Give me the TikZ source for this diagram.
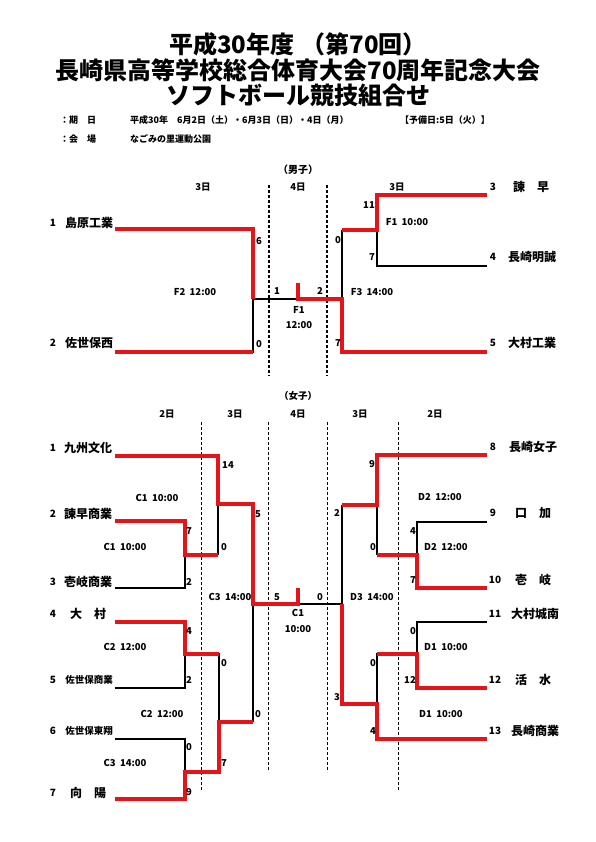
\documentclass[tikz,border=0pt]{standalone}
\usepackage{fontspec}
\setmainfont{Noto Sans CJK JP}
\definecolor{winred}{RGB}{228,20,24}
\begin{document}
\begin{tikzpicture}[x=1pt,y=-1pt,
  blk/.style={line width=1.1pt,black},
  win/.style={line width=3.8pt,winred,line join=miter},
  dsh/.style={line width=1pt,dash pattern=on 3pt off 2pt},
  dshb/.style={line width=1.4pt,dash pattern=on 3pt off 2pt},
  lbl/.style={font=\bfseries\fontsize{9.5}{10}\selectfont,inner sep=0pt},
  num/.style={font=\bfseries\fontsize{10}{11}\selectfont,inner sep=0pt},
  team/.style={font=\bfseries\fontsize{12}{13}\selectfont,inner sep=0pt},
  teams/.style={font=\bfseries\fontsize{9.5}{11}\selectfont,inner sep=0pt},
  ttl/.style={font=\bfseries\fontsize{24}{26}\selectfont,inner sep=0pt},
  hdr/.style={font=\bfseries\fontsize{9}{10}\selectfont,inner sep=0pt,anchor=west}]
\useasboundingbox (0,0) rectangle (595,842);
% titles
\node[ttl] (t1) at (298,44) {平成30年度\hspace{0.3em}（第70回）};
\node[ttl] (t2) at (298,70) {長崎県高等学校総合体育大会70周年記念大会};
\node[ttl] (t3) at (298,95) {ソフトボール競技組合せ};
\node[hdr] (h1) at (60,120) {：期　日};
\node[hdr] (h2) at (130,120) {平成30年　6月2日（土）・6月3日（日）・4日（月）};
\node[hdr] (h3) at (400,120) {【予備日:5日（火）】};
\node[hdr] (h4) at (60,139) {：会　場};
\node[hdr] (h5) at (130,139) {なごみの里運動公園};
% ================= men =================
\node[num] (mt) at (298,170) {（男子）};
\node[lbl] (md1) at (203,187) {3日};
\node[lbl] (md2) at (298,187) {4日};
\node[lbl] (md3) at (397,187) {3日};
\coordinate (MDa1) at (269,185); \coordinate (MDa2) at (269,376);
\coordinate (MDb1) at (327,185); \coordinate (MDb2) at (327,376);
\draw[dshb] (MDa1) -- (MDa2);
\draw[dshb] (MDb1) -- (MDb2);
% teams
\node[num] (mn1) at (53,223) {1};
\node[team] (mtn1) at (89,223) {島原工業};
\node[num] (mn2) at (53,343) {2};
\node[team] (mtn2) at (89,343) {佐世保西};
\node[num] (mn3) at (493,187) {3};
\node[team] (mtn3) at (531,187) {諫　早};
\node[num] (mn4) at (493,257) {4};
\node[team] (mtn4) at (532,257) {長崎明誠};
\node[num] (mn5) at (493,343) {5};
\node[team] (mtn5) at (532,343) {大村工業};
% bracket points
\coordinate (M1) at (115,229); \coordinate (M1a) at (253,229);
\coordinate (M2) at (115,352); \coordinate (M2a) at (253,352);
\coordinate (MF2) at (253,299); \coordinate (MF1) at (298,299); \coordinate (MF1t) at (298,283);
\coordinate (MF3) at (342,299); \coordinate (MF3t) at (342,230); \coordinate (MF3b) at (342,352);
\coordinate (MF1r) at (377,230);
\coordinate (M3) at (487,195); \coordinate (M3a) at (377,195);
\coordinate (M4) at (487,266); \coordinate (M4a) at (377,266);
\coordinate (M5) at (487,352);
\draw[blk] (M1) -- (M1a) -- (M2a) -- (M2);
\draw[blk] (MF2) -- (MF1) -- (MF3);
\draw[blk] (MF3t) -- (MF3b);
\draw[blk] (MF3t) -- (MF1r);
\draw[blk] (M3) -- (M3a) -- (M4a) -- (M4);
\draw[blk] (MF3b) -- (M5);
\draw[win] (M1) -- (M1a) -- (MF2);
\draw[win] (M2) -- (M2a);
\draw[win] (M3) -- (M3a) -- (MF1r) -- (MF3t);
\draw[win] (M5) -- (MF3b) -- (MF3) -- (MF1) -- (MF1t);
% labels
\node[lbl] (ms1) at (259,241) {6};
\node[lbl] (ms2) at (259,344) {0};
\node[lbl] (mg1) at (195,292) {F2\ \ 12:00};
\node[lbl] (ms3) at (277,291) {1};
\node[lbl] (ms4) at (320,291) {2};
\node[lbl] (mg2) at (299,310) {F1};
\node[lbl] (mg3) at (299,325) {12:00};
\node[lbl] (ms5) at (369,205) {11};
\node[lbl] (mg4) at (407,222) {F1\ \ 10:00};
\node[lbl] (ms6) at (338,240) {0};
\node[lbl] (ms7) at (372,257) {7};
\node[lbl] (mg5) at (372,292) {F3\ \ 14:00};
\node[lbl] (ms8) at (338,343) {7};
% ================= women =================
\node[lbl] (wt) at (298,396) {（女子）};
\node[lbl] (wd1) at (167,414) {2日};
\node[lbl] (wd2) at (235,414) {3日};
\node[lbl] (wd3) at (298,414) {4日};
\node[lbl] (wd4) at (360,414) {3日};
\node[lbl] (wd5) at (435,414) {2日};
\coordinate (WDa1) at (201,422); \coordinate (WDa2) at (201,790);
\coordinate (WDb1) at (268,422); \coordinate (WDb2) at (268,770);
\coordinate (WDc1) at (327,422); \coordinate (WDc2) at (327,772);
\coordinate (WDd1) at (398,422); \coordinate (WDd2) at (398,790);
\draw[dsh] (WDa1) -- (WDa2);
\draw[dsh] (WDb1) -- (WDb2);
\draw[dsh] (WDc1) -- (WDc2);
\draw[dsh] (WDd1) -- (WDd2);
% team names
\node[num] (wn1) at (53,448) {1};
\node[team] (wtn1) at (88,448) {九州文化};
\node[num] (wn2) at (53,514) {2};
\node[team] (wtn2) at (88,514) {諫早商業};
\node[num] (wn3) at (53,582) {3};
\node[team] (wtn3) at (88,582) {壱岐商業};
\node[num] (wn4) at (53,614) {4};
\node[team] (wtn4) at (88,614) {大　村};
\node[num] (wn5) at (53,680) {5};
\node[teams] (wtn5) at (89,680) {佐世保商業};
\node[num] (wn6) at (53,731) {6};
\node[teams] (wtn6) at (89,731) {佐世保東翔};
\node[num] (wn7) at (53,793) {7};
\node[team] (wtn7) at (88,793) {向　陽};
\node[num] (wn8) at (493,447) {8};
\node[team] (wtn8) at (533,447) {長崎女子};
\node[num] (wn9) at (493,513) {9};
\node[team] (wtn9) at (533,513) {口　加};
\node[num] (wn10) at (495,580) {10};
\node[team] (wtn10) at (533,580) {壱　岐};
\node[num] (wn11) at (495,614) {11};
\node[team] (wtn11) at (535,614) {大村城南};
\node[num] (wn12) at (495,680) {12};
\node[team] (wtn12) at (533,680) {活　水};
\node[num] (wn13) at (495,731) {13};
\node[team] (wtn13) at (535,731) {長崎商業};
% bracket points left
\coordinate (W1) at (115,456); \coordinate (W1a) at (218,456);
\coordinate (W2) at (115,521); \coordinate (W2a) at (185,521);
\coordinate (W3) at (115,588); \coordinate (W3a) at (185,588);
\coordinate (WJ23) at (185,555); \coordinate (WJ23r) at (218,555);
\coordinate (WJ1) at (218,504); \coordinate (WJ1r) at (253,504);
\coordinate (W4) at (115,622); \coordinate (W4a) at (185,622);
\coordinate (W5) at (115,688); \coordinate (W5a) at (185,688);
\coordinate (WJ45) at (185,654); \coordinate (WJ45r) at (219,654);
\coordinate (W6) at (115,739); \coordinate (W6a) at (185,739);
\coordinate (W7) at (115,799); \coordinate (W7a) at (185,799);
\coordinate (WJ67) at (185,772); \coordinate (WJ67r) at (219,772);
\coordinate (WJL2) at (219,722); \coordinate (WJL2r) at (253,722);
\coordinate (WC3) at (253,604); \coordinate (WC1) at (298,604); \coordinate (WC1t) at (298,588);
\coordinate (WD3) at (342,604);
% bracket points right
\coordinate (W8) at (487,455); \coordinate (W8a) at (377,455);
\coordinate (W9) at (487,522); \coordinate (W9a) at (417,522);
\coordinate (W10) at (487,588); \coordinate (W10a) at (417,588);
\coordinate (WJ910) at (417,555); \coordinate (WJ910l) at (377,555);
\coordinate (WJ8) at (377,505); \coordinate (WJ8l) at (342,505);
\coordinate (W11) at (487,622); \coordinate (W11a) at (417,622);
\coordinate (W12) at (487,688); \coordinate (W12a) at (417,688);
\coordinate (WJ1112) at (417,654); \coordinate (WJ1112l) at (377,654);
\coordinate (W13) at (487,739); \coordinate (W13a) at (377,739);
\coordinate (WJ13) at (377,704); \coordinate (WJ13l) at (342,704);
% black lines
\draw[blk] (W1) -- (W1a) -- (WJ23r);
\draw[blk] (WJ1) -- (WJ1r);
\draw[blk] (W2) -- (W2a) -- (W3a) -- (W3);
\draw[blk] (WJ23) -- (WJ23r);
\draw[blk] (W4) -- (W4a) -- (W5a) -- (W5);
\draw[blk] (WJ45) -- (WJ45r) -- (WJ67r);
\draw[blk] (W6) -- (W6a) -- (W7a) -- (W7);
\draw[blk] (WJ67) -- (WJ67r);
\draw[blk] (WJL2) -- (WJL2r);
\draw[blk] (WJ1r) -- (WJL2r);
\draw[blk] (WC3) -- (WC1) -- (WD3);
\draw[blk] (W8) -- (W8a) -- (WJ910l);
\draw[blk] (WJ8) -- (WJ8l);
\draw[blk] (W9) -- (W9a) -- (W10a) -- (W10);
\draw[blk] (WJ910) -- (WJ910l);
\draw[blk] (W11) -- (W11a) -- (W12a) -- (W12);
\draw[blk] (WJ1112) -- (WJ1112l) -- (W13a) -- (W13);
\draw[blk] (WJ13) -- (WJ13l);
\draw[blk] (WJ8l) -- (WJ13l);
% red lines
\draw[win] (W1) -- (W1a) -- (WJ1) -- (WJ1r) -- (WC3) -- (WC1) -- (WC1t);
\draw[win] (W2) -- (W2a) -- (WJ23) -- (WJ23r);
\draw[win] (W4) -- (W4a) -- (WJ45) -- (WJ45r);
\draw[win] (W7) -- (W7a) -- (WJ67) -- (WJ67r) -- (WJL2) -- (WJL2r);
\draw[win] (W8) -- (W8a) -- (WJ8) -- (WJ8l);
\draw[win] (W10) -- (W10a) -- (WJ910) -- (WJ910l);
\draw[win] (W12) -- (W12a) -- (WJ1112) -- (WJ1112l);
\draw[win] (W13) -- (W13a) -- (WJ13) -- (WJ13l) -- (WD3);
% labels left
\node[lbl] (ws1) at (228,465) {14};
\node[lbl] (wg1) at (157,498) {C1\ \ 10:00};
\node[lbl] (ws2) at (258,514) {5};
\node[lbl] (ws3) at (189,531) {7};
\node[lbl] (wg2) at (125,547) {C1\ \ 10:00};
\node[lbl] (ws4) at (224,547) {0};
\node[lbl] (ws5) at (189,582) {2};
\node[lbl] (wg3) at (230,597) {C3\ \ 14:00};
\node[lbl] (ws6) at (277,597) {5};
\node[lbl] (ws7) at (320,597) {0};
\node[lbl] (wg4) at (298,613) {C1};
\node[lbl] (wg5) at (298,629) {10:00};
\node[lbl] (ws8) at (189,631) {4};
\node[lbl] (wg6) at (125,647) {C2\ \ 12:00};
\node[lbl] (ws9) at (224,663) {0};
\node[lbl] (ws10) at (189,680) {2};
\node[lbl] (wg7) at (162,714) {C2\ \ 12:00};
\node[lbl] (ws11) at (258,714) {0};
\node[lbl] (ws12) at (189,747) {0};
\node[lbl] (ws13) at (224,763) {7};
\node[lbl] (wg8) at (125,763) {C3\ \ 14:00};
\node[lbl] (ws14) at (189,792) {9};
% labels right
\node[lbl] (ws15) at (372,464) {9};
\node[lbl] (wg9) at (440,497) {D2\ \ 12:00};
\node[lbl] (ws16) at (337,513) {2};
\node[lbl] (ws17) at (413,531) {4};
\node[lbl] (ws18) at (373,547) {0};
\node[lbl] (wg10) at (446,547) {D2\ \ 12:00};
\node[lbl] (ws19) at (413,580) {7};
\node[lbl] (wg11) at (372,597) {D3\ \ 14:00};
\node[lbl] (ws20) at (413,631) {0};
\node[lbl] (wg12) at (446,647) {D1\ \ 10:00};
\node[lbl] (ws21) at (373,663) {0};
\node[lbl] (ws22) at (410,680) {12};
\node[lbl] (ws23) at (337,697) {3};
\node[lbl] (wg13) at (441,714) {D1\ \ 10:00};
\node[lbl] (ws24) at (373,731) {4};
\end{tikzpicture}
\end{document}
